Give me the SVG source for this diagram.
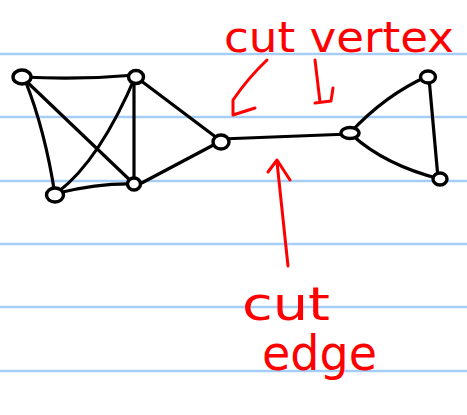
<svg xmlns="http://www.w3.org/2000/svg" width="467" height="415" viewBox="0 0 467 415">
<style>
.rule{stroke:#a6cdf6;stroke-width:2.5}
.edge{fill:none;stroke:#000;stroke-width:3.2;stroke-linecap:round}
.node{fill:#fff;stroke:#000;stroke-width:3.4}
.ann{fill:none;stroke:#f00;stroke-width:3;stroke-linecap:round;stroke-linejoin:round}
.lbl{fill:#f00;font-family:"DejaVu Sans",sans-serif;font-size:42px}
</style>
<rect width="467" height="415" fill="#fff"/>
<g id="paper-lines">
<line class="rule" x1="0" y1="54" x2="467" y2="54"/>
<line class="rule" x1="0" y1="117" x2="467" y2="117"/>
<line class="rule" x1="0" y1="181" x2="467" y2="181"/>
<line class="rule" x1="0" y1="244" x2="467" y2="244"/>
<line class="rule" x1="0" y1="307" x2="467" y2="307"/>
<line class="rule" x1="0" y1="371" x2="467" y2="371"/>
</g>
<g id="connectors">
<path class="edge" d="M22,77 Q80,80 136,75"/>
<path class="edge" d="M25,80 Q45,130 55,195"/>
<path class="edge" d="M25,80 L134,184"/>
<path class="edge" d="M136,75 Q100,160 58,192"/>
<path class="edge" d="M134,78 L134,184"/>
<path class="edge" d="M136,77 L221,141"/>
<path class="edge" d="M58,193 Q100,183 134,184"/>
<path class="edge" d="M136,186 L221,141"/>
<path class="edge" d="M221,139 L350,134"/>
<path class="edge" d="M350,133 Q385,95 428,76"/>
<path class="edge" d="M352,135 Q385,165 440,179"/>
<path class="edge" d="M429,78 L438,178"/>
</g>
<g id="n1"><ellipse class="node" cx="22" cy="77" rx="9" ry="7"/></g>
<g id="n2"><ellipse class="node" cx="136" cy="77" rx="7.5" ry="6.5"/></g>
<g id="n3"><ellipse class="node" cx="55" cy="195" rx="8.5" ry="7"/></g>
<g id="n4"><ellipse class="node" cx="134" cy="184" rx="6.5" ry="6"/></g>
<g id="n5"><ellipse class="node" cx="221" cy="142" rx="8" ry="7"/></g>
<g id="n6"><ellipse class="node" cx="350" cy="133" rx="9" ry="5.5"/></g>
<g id="n7"><ellipse class="node" cx="428" cy="77" rx="7.5" ry="6"/></g>
<g id="n8"><ellipse class="node" cx="440" cy="179" rx="7" ry="6"/></g>
<g id="annotations">
<text class="lbl" x="224" y="52" textLength="230" lengthAdjust="spacingAndGlyphs">cut vertex</text>
<path class="ann" d="M267,60 Q248,78 233,100 L233,115 L255,108"/>
<path class="ann" d="M315,60 Q318,85 320,102 M333,88 L331,101 L315,103"/>
<text class="lbl" x="242" y="320" textLength="88" lengthAdjust="spacingAndGlyphs" style="font-size:46px">cut</text>
<text class="lbl" x="262" y="370" textLength="115" lengthAdjust="spacingAndGlyphs" style="font-size:48px">edge</text>
<path class="ann" d="M288,266 L277,162 M268,172 L277,160 L290,180"/>
</g>
</svg>
